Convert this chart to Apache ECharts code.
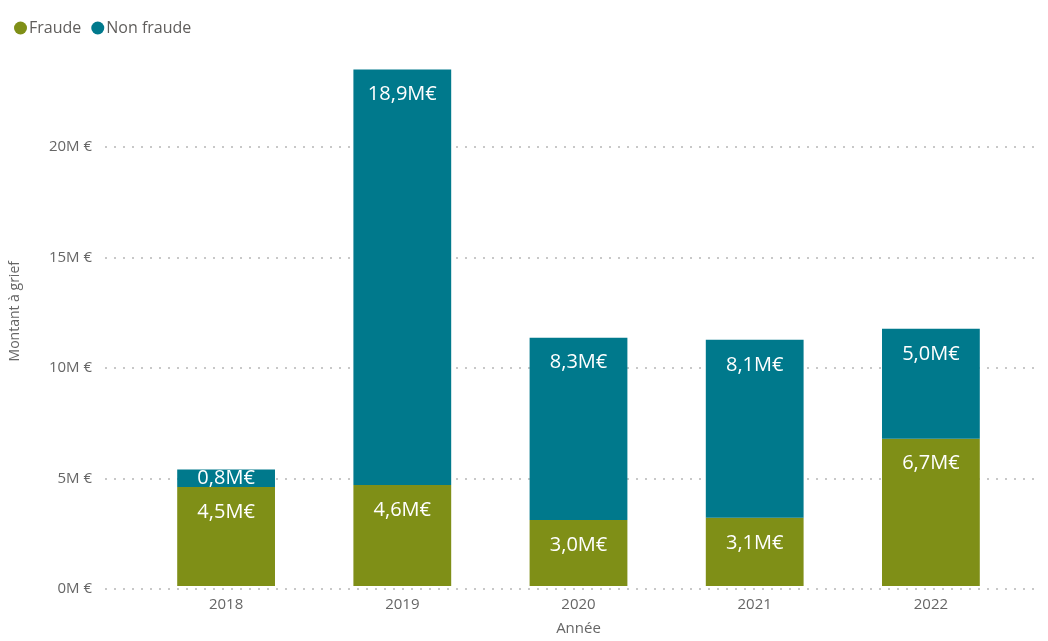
<!DOCTYPE html>
<html>
<head>
<meta charset="utf-8">
<script src="https://cdn.jsdelivr.net/npm/echarts@6/dist/echarts.min.js"></script>
<style>
html,body{margin:0;padding:0;background:#fff;}
#chart{width:1048px;height:641px;}
</style>
</head>
<body>
<div id="chart"></div>
<script>
const categories = ['2018', '2019', '2020', '2021', '2022'];
const fraude = [4.5, 4.6, 3.0, 3.1, 6.7];
const nonFraude = [0.8, 18.9, 8.3, 8.1, 5.0];
const seriesNames = ['Fraude', 'Non fraude'];
const colors = ['#7f8f17', '#00798c'];
const yTickMax = 20;
const yFullMax = 25;
const M = 1000000;

const font = '"Open Sans", "Noto Sans", sans-serif';
const chart = echarts.init(document.getElementById('chart'));

function fmtLabel(v) {
  return v.toFixed(1).replace('.', ',') + 'M€';
}
function makeData(arr) {
  return arr.map(v => ({
    value: v * M,
    label: v < 2 ? { position: 'inside' } : undefined
  }));
}

const labelStyle = {
  show: true,
  position: 'insideTop',
  distance: 15,
  color: '#ffffff',
  fontSize: 20,
  fontFamily: font,
  formatter: p => fmtLabel(p.value / M)
};

chart.setOption({
  animation: false,
  color: colors,
  textStyle: { fontFamily: font },
  legend: {
    left: 9, top: 15,
    icon: 'circle',
    itemWidth: 13, itemHeight: 13, itemGap: 10,
    textStyle: { color: '#605e5c', fontSize: 16, fontFamily: font, padding: [0, 0, 0, -3] },
    data: seriesNames
  },
  grid: [
    { left: 105, right: 8, top: 147, bottom: 52, containLabel: false },
    { left: 136, right: 29, top: 36.5, bottom: 52, containLabel: false }
  ],
  xAxis: [
    { gridIndex: 0, type: 'category', data: categories, show: false },
    {
      gridIndex: 1, type: 'category', data: categories,
      axisLine: { show: false }, axisTick: { show: false },
      axisLabel: { color: '#666666', fontSize: 15, margin: 11, fontFamily: font },
      name: 'Année', nameLocation: 'middle', nameGap: 35,
      nameTextStyle: { color: '#666666', fontSize: 15, fontFamily: font }
    }
  ],
  yAxis: [
    {
      gridIndex: 0, type: 'value', min: 0, max: yTickMax * M, interval: 5 * M,
      axisLine: { show: false }, axisTick: { show: false },
      axisLabel: { color: '#666666', fontSize: 15, margin: 13, fontFamily: font,
        formatter: v => (v / M) + 'M €' },
      splitLine: { show: true, lineStyle: { color: '#c8c8c8', width: 2, type: [2, 7] } }
    },
    {
      gridIndex: 1, type: 'value', min: 0, max: yFullMax * M,
      axisLine: { show: false }, axisTick: { show: false },
      axisLabel: { show: false }, splitLine: { show: false },
      name: 'Montant à grief', nameLocation: 'middle', nameGap: 116, nameRotate: 90,
      nameTextStyle: { color: '#666666', fontSize: 14, fontFamily: font }
    }
  ],
  series: [
    {
      name: seriesNames[0], type: 'bar', stack: 'total',
      xAxisIndex: 1, yAxisIndex: 1, barWidth: '55.5%',
      itemStyle: { color: colors[0] },
      label: labelStyle,
      data: makeData(fraude)
    },
    {
      name: seriesNames[1], type: 'bar', stack: 'total',
      xAxisIndex: 1, yAxisIndex: 1, barWidth: '55.5%',
      itemStyle: { color: colors[1] },
      label: labelStyle,
      data: makeData(nonFraude)
    }
  ]
});
</script>
</body>
</html>
